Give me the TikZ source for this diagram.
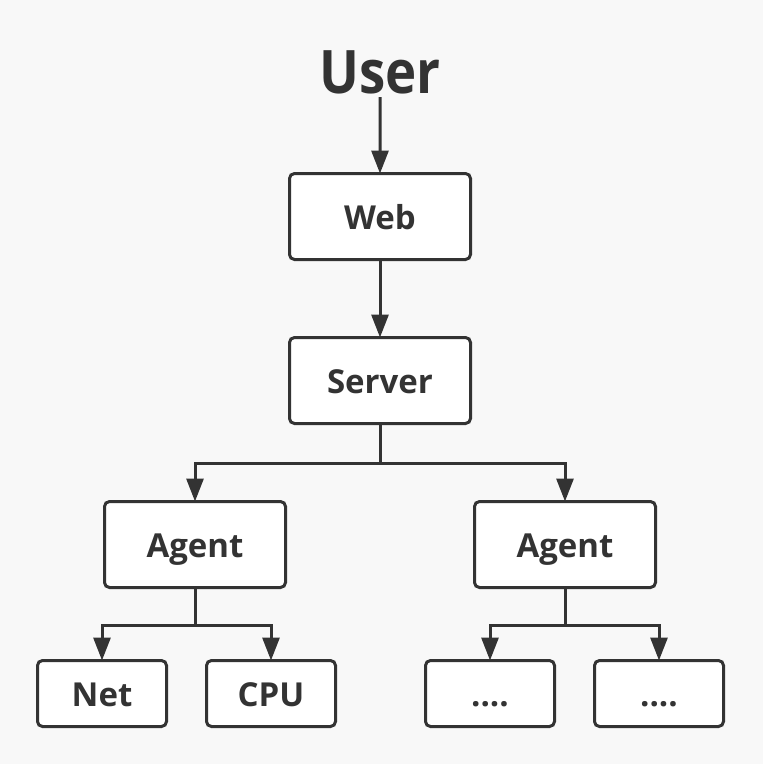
\documentclass[tikz,border=0pt]{standalone}
\usepackage{fontspec}
\setmainfont{Open Sans}
\usetikzlibrary{positioning, arrows.meta}

\definecolor{ink}{HTML}{333333}
\definecolor{paper}{HTML}{F8F8F8}

\tikzset{
	box/.style={draw=ink, fill=white, line width=3pt, rounded corners=5pt, outer sep=0pt,
		text=ink, font=\bfseries\fontsize{33}{33}\selectfont, text height=25pt, text depth=0pt},
	bigbox/.style={box, minimum width=181pt, minimum height=86pt},
	smallbox/.style={box, minimum width=129pt, minimum height=66pt},
	link/.style={draw=ink, line width=3pt, -{Triangle[length=23pt, width=17pt]}},
	wire/.style={draw=ink, line width=3pt}
}

\begin{document}
\begin{tikzpicture}[x=1pt, y=-1pt]
	\fill[paper] (0,0) rectangle (763,764);
	\useasboundingbox (0,0) rectangle (763,764);
	\node (user)[text=ink, font=\bfseries\fontsize{60}{60}\selectfont, xscale=0.88, transform shape] at (380,72) {User};
	\node (web)[bigbox] at (380,216.5) {Web};
	\node (server)[bigbox, below=78pt of web] {Server};
	\node (agentL)[bigbox, below=78pt of server, xshift=-185pt] {Agent};
	\node (agentR)[bigbox, below=78pt of server, xshift=185pt] {Agent};
	\node (net)[smallbox, below=73pt of agentL, xshift=-93pt] {Net};
	\node (cpu)[smallbox, below=73pt of agentL, xshift=76pt] {CPU};
	\node (moreL)[smallbox, below=73pt of agentR, xshift=-75pt] {....};
	\node (moreR)[smallbox, below=73pt of agentR, xshift=94pt] {....};
	\coordinate[below=39.5pt of server] (splitS);
	\coordinate[below=37.5pt of agentL] (splitL);
	\coordinate[below=37.5pt of agentR] (splitR);
	\draw[link] (user) -- (web);
	\draw[link] (web) -- (server);
	\draw[wire] (server) -- (splitS);
	\draw[link] (splitS) -| (agentL);
	\draw[link] (splitS) -| (agentR);
	\draw[wire] (agentL) -- (splitL);
	\draw[link] (splitL) -| (net);
	\draw[link] (splitL) -| (cpu);
	\draw[wire] (agentR) -- (splitR);
	\draw[link] (splitR) -| (moreL);
	\draw[link] (splitR) -| (moreR);
\end{tikzpicture}
\end{document}
